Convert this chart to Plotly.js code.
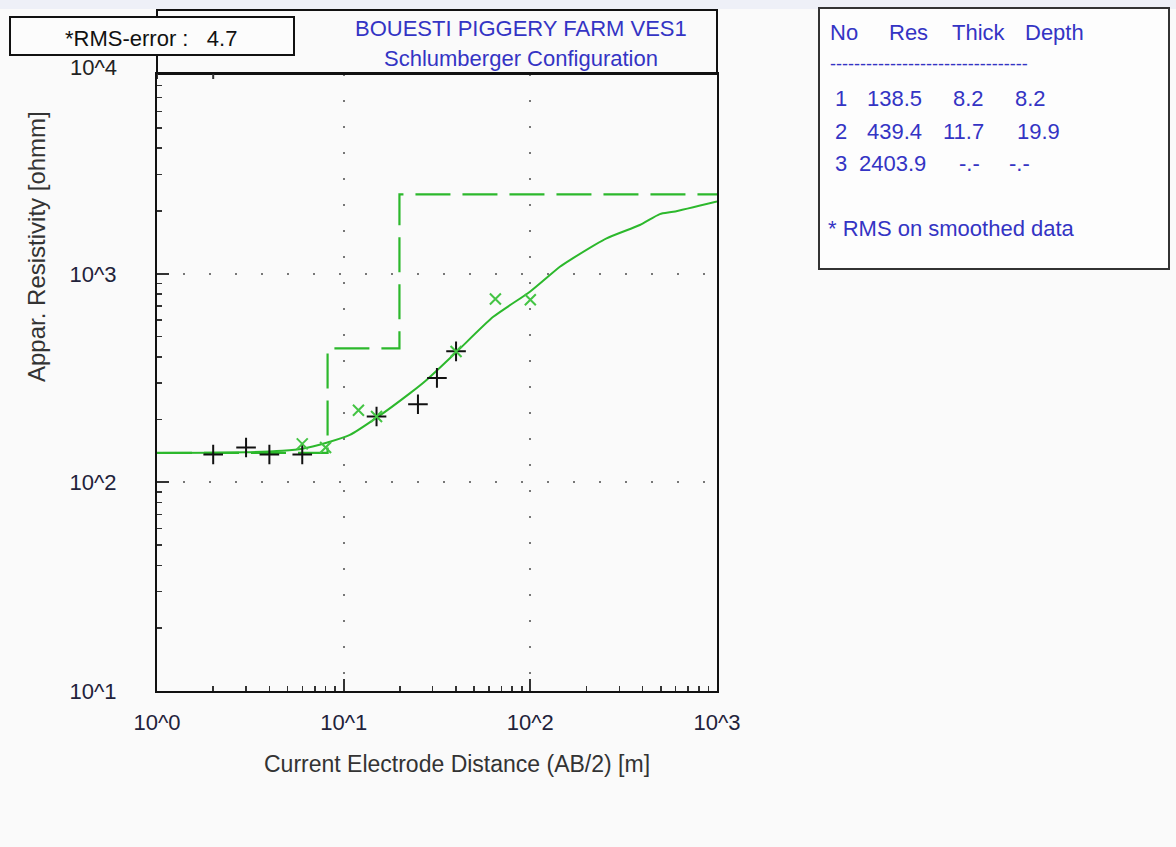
<!DOCTYPE html>
<html><head><meta charset="utf-8">
<script src="https://cdn.plot.ly/plotly-3.0.1.min.js"></script>
<style>html,body{margin:0;padding:0;background:#fafafa}</style>
</head><body><div id="chart" style="width:1176px;height:847px"></div>
<script>
// ---- data ----
const fieldAB2 = [2, 3, 4, 6, 15, 25, 31.6, 40];
const fieldRho = [136, 147, 136, 136, 207, 237, 317, 425];
const smoothAB2 = [6, 8, 12, 15, 40, 65, 100];
const smoothRho = [153, 147, 222, 207, 424, 757, 751];
const modelAB2 = [1, 2, 3, 4.7, 6, 8.1, 10.8, 15.1, 22.7, 27.8, 40.3, 63.3, 99.5, 144, 163, 256, 386, 494, 583, 1000];
const modelRho = [138.5, 138.7, 139.5, 142, 145, 155, 169, 205, 268, 310, 423, 622, 821, 1082, 1164, 1479, 1714, 1934, 1984, 2225];
const layerNo = [1, 2, 3];
const layerRes = [138.5, 439.4, 2403.9];
const layerThick = [8.2, 11.7, null];
const layerDepth = [8.2, 19.9, null];
const rmsError = 4.7;
const xTickVals = [1, 10, 100, 1000];
const xTickText = ['10^0', '10^1', '10^2', '10^3'];
const yTickVals = [10, 100, 1000];
const yTickText = ['10^1', '10^2', '10^3'];
const titleLines = ['BOUESTI PIGGERY FARM VES1', 'Schlumberger Configuration'];

// ---- geometry helpers ----
const W = 1176, H = 847;
const M = {l: 157, r: 459, t: 74, b: 156};
const PW = W - M.l - M.r, PH = H - M.t - M.b;
const px = v => (v - M.l) / PW;
const py = v => (H - M.b - v) / PH;

const XMAX = 1000;
// layered model step line from layer table
const stepX = [1], stepY = [layerRes[0]];
for (let i = 0; i < layerRes.length - 1; i++) {
  stepX.push(layerDepth[i], layerDepth[i]);
  stepY.push(layerRes[i], layerRes[i + 1]);
}
stepX.push(XMAX); stepY.push(layerRes[layerRes.length - 1]);

const minorX = [], minorY = [];
[1, 10, 100].forEach(d => { for (let k = 2; k <= 9; k++) minorX.push(d * k); });
[10, 100, 1000].forEach(d => { for (let k = 2; k <= 9; k++) minorY.push(d * k); });

const GREEN = '#2cb82c';
const BLUE = '#3434c4';
const FONT = 'Liberation Sans, Arial, sans-serif';

const traces = [
  {x: stepX, y: stepY, mode: 'lines', line: {color: GREEN, width: 2.2, dash: '35px,12px'}, hoverinfo: 'skip', name: 'model'},
  {x: modelAB2, y: modelRho, mode: 'lines', line: {color: GREEN, width: 2, shape: 'spline', smoothing: 0.6}, name: 'calculated'},
  {x: fieldAB2, y: fieldRho, mode: 'markers', marker: {symbol: 'cross-thin', size: 14, line: {color: '#111', width: 2}}, name: 'field'},
  {x: smoothAB2, y: smoothRho, mode: 'markers', marker: {symbol: 'x-thin', size: 11, line: {color: '#44c444', width: 2}}, name: 'smoothed'}
];

const ann = [];
const A = (text, x, y, size, color, opts) => ann.push(Object.assign({
  text, xref: 'paper', yref: 'paper', x: px(x), y: py(y), showarrow: false,
  xanchor: 'center', yanchor: 'middle', font: {family: FONT, size, color}
}, opts || {}));

A(titleLines[0], 521, 28, 22, BLUE);
A(titleLines[1], 521, 59, 22, BLUE);
A('*RMS-error :\u00a0\u00a0 ' + rmsError.toFixed(1), 151, 38, 22, '#111');
A('10^4', 119, 67, 22, '#222', {xanchor: 'right'});
A('Current Electrode Distance (AB/2) [m]', 457, 764, 23, '#333');
A('Appar. Resistivity [ohmm]', 37, 247, 24, '#333', {textangle: -90});

// table
const tbl = 22;
A('No', 828, 33, tbl, BLUE, {xanchor: 'left'});
A('Res', 887, 33, tbl, BLUE, {xanchor: 'left'});
A('Thick', 950, 33, tbl, BLUE, {xanchor: 'left'});
A('Depth', 1023, 33, tbl, BLUE, {xanchor: 'left'});
A('-'.repeat(33), 828, 64, 18, BLUE, {xanchor: 'left'});
const rowY = [98, 132, 163];
const resRight = 924, thickRight = 986, depthRight = 1048;
layerNo.forEach((n, i) => {
  A(String(n), 833, rowY[i], tbl, BLUE, {xanchor: 'left'});
  A(layerRes[i].toFixed(1), resRight + (i === 2 ? 4 : 0), rowY[i], tbl, BLUE, {xanchor: 'right'});
  A(layerThick[i] == null ? '-.-' : layerThick[i].toFixed(1), thickRight + (layerThick[i] == null ? -4 : 0), rowY[i], tbl, BLUE, {xanchor: 'right'});
  A(layerDepth[i] == null ? '-.-' : layerDepth[i].toFixed(1), depthRight + (layerDepth[i] == null ? -16 : (i === 1 ? 14 : 0)), rowY[i], tbl, BLUE, {xanchor: 'right'});
});
A('* RMS on smoothed data', 826, 229, tbl, BLUE, {xanchor: 'left'});

const shapes = [
  {type: 'rect', xref: 'paper', yref: 'paper', x0: px(0), x1: px(W), y0: py(9), y1: py(0), fillcolor: '#eef0f7', line: {width: 0}, layer: 'below'},
  {type: 'rect', xref: 'paper', yref: 'paper', x0: 0, x1: 1, y0: 1, y1: py(10), line: {color: '#111', width: 2}},
  {type: 'rect', xref: 'paper', yref: 'paper', x0: px(10), x1: px(294), y0: py(55), y1: py(17), fillcolor: '#fcfcfc', line: {color: '#111', width: 2}},
  {type: 'rect', xref: 'paper', yref: 'paper', x0: px(819), x1: px(1169), y0: py(269), y1: py(8), fillcolor: '#fdfdfd', line: {color: '#333', width: 2}}
];
[10, 100].forEach(v => shapes.push({type: 'line', xref: 'x', yref: 'paper', x0: Math.log10(v), x1: Math.log10(v), y0: 1, y1: 1 - 5 / PH, line: {color: '#333', width: 2}}));
[100, 1000].forEach(v => shapes.push({type: 'line', xref: 'paper', yref: 'y', y0: Math.log10(v), y1: Math.log10(v), x0: 1, x1: 1 - 12 / PW, line: {color: '#333', width: 2}}));

const axisCommon = {
  type: 'log', showline: true, linecolor: '#111', linewidth: 2, mirror: true,
  ticks: 'inside', ticklen: 12, tickwidth: 2, tickcolor: '#333',
  tickmode: 'array', showgrid: true, gridcolor: '#777', gridwidth: 2, griddash: '2px,24px',
  tickfont: {family: FONT, size: 22, color: '#22223a'}, zeroline: false, fixedrange: true
};

const layout = {
  width: W, height: H, margin: M, showlegend: false,
  paper_bgcolor: '#fafafa', plot_bgcolor: '#fafafa',
  xaxis: Object.assign({}, axisCommon, {range: [0, 3], tickvals: xTickVals, ticktext: xTickText, ticklabelstandoff: 11,
    minor: {tickmode: 'array', tickvals: minorX, ticks: 'inside', ticklen: 5, tickcolor: '#333', tickwidth: 1.5, showgrid: false}}),
  yaxis: Object.assign({}, axisCommon, {range: [1, 3.958], tickvals: yTickVals, ticktext: yTickText, ticklabelstandoff: 34,
    minor: {tickmode: 'array', tickvals: minorY, ticks: 'inside', ticklen: 5, tickcolor: '#333', tickwidth: 1.5, showgrid: false}}),
  shapes, annotations: ann
};

Plotly.newPlot('chart', traces, layout, {displayModeBar: false, staticPlot: true});
</script></body></html>
